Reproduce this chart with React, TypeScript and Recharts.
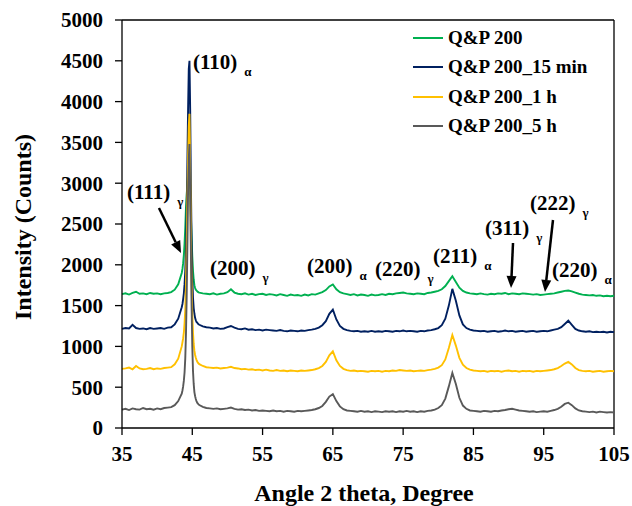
import {
  Line,
  LineChart,
  ReferenceDot,
  ReferenceLine,
  XAxis,
  YAxis,
} from "recharts";

const FONT = '"Liberation Serif", "Times New Roman", serif';

// 2 theta grid (finer around the (110) peak)
const angles = [
  35, 35.5, 36, 36.5, 37, 37.5, 38, 38.5, 39, 39.5, 40, 40.5, 41, 41.5, 42, 42.5, 43,
  43.5, 43.6, 43.7, 43.8, 43.9, 44, 44.1, 44.2, 44.3, 44.4, 44.5, 44.6, 44.7, 44.8, 44.9,
  45, 45.1, 45.2, 45.3, 45.4, 45.5, 45.6, 45.7, 45.8, 45.9, 46,
  46.5, 47, 47.5, 48, 48.5, 49, 49.5, 50, 50.5, 51,
  51.5, 52, 52.5, 53, 53.5, 54, 54.5, 55, 55.5, 56,
  56.5, 57, 57.5, 58, 58.5, 59, 59.5, 60, 60.5, 61,
  61.5, 62, 62.5, 63, 63.5, 64, 64.5, 65, 65.5, 66,
  66.5, 67, 67.5, 68, 68.5, 69, 69.5, 70, 70.5, 71,
  71.5, 72, 72.5, 73, 73.5, 74, 74.5, 75, 75.5, 76,
  76.5, 77, 77.5, 78, 78.5, 79, 79.5, 80, 80.5, 81,
  81.5, 82, 82.5, 83, 83.5, 84, 84.5, 85, 85.5, 86,
  86.5, 87, 87.5, 88, 88.5, 89, 89.5, 90, 90.5, 91,
  91.5, 92, 92.5, 93, 93.5, 94, 94.5, 95, 95.5, 96,
  96.5, 97, 97.5, 98, 98.5, 99, 99.5, 100, 100.5, 101,
  101.5, 102, 102.5, 103, 103.5, 104, 104.5, 105,
];

const qp200 = [
  1640, 1650, 1635, 1655, 1670, 1645, 1650, 1640, 1655, 1645, 1650, 1640, 1650, 1655, 1665, 1695, 1760,
  1900, 1950, 2020, 2120, 2260, 2450, 2700, 2850, 3000, 3100, 3100, 3050, 2900, 2600, 2350,
  2100, 1930, 1820, 1750, 1715, 1695, 1685, 1675, 1668, 1662, 1658,
  1650, 1645, 1640, 1650, 1635, 1645, 1650, 1665, 1700, 1660,
  1645, 1640, 1650, 1635, 1645, 1630, 1640, 1645, 1630, 1640,
  1635, 1625, 1640, 1630, 1620, 1635, 1625, 1630, 1620, 1635,
  1625, 1640, 1635, 1650, 1665, 1690, 1735, 1760, 1700, 1665,
  1650, 1640, 1630, 1640, 1625, 1635, 1630, 1620, 1635, 1625,
  1630, 1640, 1630, 1645, 1640, 1650, 1655, 1660, 1650, 1645,
  1640, 1650, 1645, 1640, 1655, 1660, 1670, 1680, 1700, 1740,
  1800, 1860, 1790, 1720, 1680, 1660, 1650, 1645, 1640, 1650,
  1640, 1635, 1645, 1640, 1650, 1645, 1655, 1640, 1650, 1645,
  1640, 1650, 1645, 1640, 1635, 1640, 1630, 1635, 1640, 1645,
  1650, 1660, 1670, 1680, 1685, 1675, 1660, 1645, 1635, 1630,
  1625, 1630, 1620, 1625, 1615, 1620, 1615, 1620,
];

const qp200_15min = [
  1215, 1225, 1220, 1265, 1225, 1215, 1220, 1210, 1225, 1215, 1220, 1225, 1215, 1230, 1235, 1270, 1340,
  1480, 1520, 1580, 1650, 1760, 1920, 2200, 2650, 3250, 3900, 4400, 4500, 3900, 3000, 2300,
  1850, 1600, 1470, 1400, 1350, 1320, 1300, 1290, 1280, 1270, 1265,
  1245, 1235, 1230, 1220, 1225, 1215, 1220, 1235, 1250, 1230,
  1215, 1210, 1220, 1205, 1210, 1200, 1205, 1195, 1205, 1200,
  1195, 1190, 1200, 1190, 1185, 1195, 1190, 1185, 1195, 1190,
  1200, 1205, 1215, 1230, 1260, 1310, 1400, 1450, 1330, 1250,
  1215, 1200, 1190, 1185, 1190, 1180, 1185, 1180, 1190, 1180,
  1185, 1180, 1190, 1185, 1180, 1190, 1185, 1195, 1185, 1190,
  1185, 1180, 1190, 1185, 1195, 1200, 1210, 1225, 1260, 1340,
  1500, 1705, 1560, 1380, 1270, 1225, 1205, 1195, 1190, 1185,
  1190, 1180, 1185, 1190, 1180, 1185, 1195, 1185, 1190, 1180,
  1185, 1190, 1180, 1185, 1190, 1180, 1185, 1190, 1185, 1195,
  1205, 1215, 1235, 1275, 1315, 1265, 1215, 1195, 1185, 1180,
  1185, 1175, 1180, 1175, 1180, 1170, 1180, 1175,
];

const qp200_1h = [
  725, 730, 740, 720, 760, 730, 720, 725, 735, 720, 730, 725, 735, 740, 745, 780, 850,
  1000, 1050, 1100, 1170, 1280, 1450, 1750, 2200, 2800, 3300, 3700, 3850, 3200, 2450, 1800,
  1400, 1170, 1030, 945, 895, 860, 835, 815, 800, 790, 782,
  760, 745, 740, 735, 740, 730, 735, 740, 750, 735,
  730, 720, 725, 715, 720, 710, 715, 705, 715, 705,
  700, 710, 700, 705, 695, 705, 700, 695, 705, 700,
  705, 710, 720, 735, 760, 810, 890, 940, 830, 760,
  725, 710, 700, 705, 695, 700, 695, 690, 700, 695,
  700, 690, 700, 695, 705, 700, 710, 705, 700, 705,
  695, 700, 705, 700, 710, 715, 725, 740, 770, 840,
  980, 1140, 1010, 860, 775, 735, 715, 705, 700, 695,
  700, 690, 700, 695, 700, 690, 700, 705, 695, 700,
  690, 700, 695, 700, 690, 700, 695, 700, 705, 710,
  720, 735, 760, 790, 810, 780, 735, 710, 700, 695,
  700, 690, 695, 700, 690, 695, 700, 695,
];

const qp200_5h = [
  225, 235, 220, 240, 230, 225, 245, 230, 235, 225, 240, 230, 245, 250, 255, 280, 330,
  420, 460, 510, 580, 680, 850, 1150, 1600, 2200, 2900, 3300, 3480, 2900, 2150, 1500,
  1000, 700, 540, 440, 390, 355, 330, 310, 300, 290, 282,
  260, 245, 240, 235, 240, 230, 235, 240, 250, 235,
  225, 230, 220, 225, 215, 220, 210, 215, 210, 205,
  215, 205, 210, 200, 210, 205, 200, 210, 205, 210,
  215, 220, 230, 245, 270, 320, 385, 415, 330, 265,
  230, 215, 210, 205, 200, 210, 200, 205, 195, 205,
  200, 195, 205, 200, 205, 195, 205, 200, 210, 200,
  205, 195, 205, 200, 210, 215, 225, 245, 280, 360,
  510, 675, 540, 370, 275, 235, 215, 210, 205, 200,
  210, 205, 200, 210, 205, 215, 220, 230, 235, 225,
  215, 210, 205, 200, 205, 195, 200, 205, 200, 210,
  220, 235, 260, 295, 310, 280, 240, 215, 205, 200,
  195, 200, 190, 200, 195, 190, 195, 190,
];

const xTicks = [35, 45, 55, 65, 75, 85, 95, 105];
const yTicks = [0, 500, 1000, 1500, 2000, 2500, 3000, 3500, 4000, 4500, 5000];

const series = [
  { key: "qp200", name: "Q&P 200", color: "#00B050" },
  { key: "qp200_15min", name: "Q&P 200_15 min", color: "#002060" },
  { key: "qp200_1h", name: "Q&P 200_1 h", color: "#FFC000" },
  { key: "qp200_5h", name: "Q&P 200_5 h", color: "#595959" },
];

// peak labels: text start (2theta) and baseline (counts)
const peakLabels = [
  { x: 45.1, y: 4400, text: "(110)", sub: "α" },
  { x: 35.71, y: 2806, text: "(111)", sub: "γ" },
  { x: 47.52, y: 1875, text: "(200)", sub: "γ" },
  { x: 61.32, y: 1900, text: "(200)", sub: "α" },
  { x: 71.0, y: 1863, text: "(220)", sub: "γ" },
  { x: 79.25, y: 2022, text: "(211)", sub: "α" },
  { x: 86.65, y: 2365, text: "(311)", sub: "γ" },
  { x: 93.05, y: 2672, text: "(222)", sub: "γ" },
  { x: 96.18, y: 1850, text: "(220)", sub: "α" },
];

const arrows = [
  { from: { x: 40.26, y: 2696 }, to: { x: 43.39, y: 2145 } },
  { from: { x: 90.63, y: 2267 }, to: { x: 90.35, y: 1716 } },
  { from: { x: 96.32, y: 2549 }, to: { x: 95.18, y: 1667 } },
];

const rows = angles.map((a, i) => ({
  angle: a,
  qp200: qp200[i],
  qp200_15min: qp200_15min[i],
  qp200_1h: qp200_1h[i],
  qp200_5h: qp200_5h[i],
}));

const PeakText = (props: any) => {
  const vb = props.viewBox || {};
  const x = vb.x + (vb.width || 0) / 2;
  const y = vb.y + (vb.height || 0) / 2;
  return (
    <text
      x={x}
      y={y}
      fontFamily={FONT}
      fontWeight={700}
      fontSize={21}
      fill="#000"
    >
      {props.main}
      <tspan dx={7} dy={7} fontSize={13}>
        {props.sub}
      </tspan>
    </text>
  );
};

const Arrow = (props: any) => {
  const { x1, y1, x2, y2 } = props;
  if ([x1, y1, x2, y2].some((v) => typeof v !== "number")) return null;
  const dx = x2 - x1;
  const dy = y2 - y1;
  const len = Math.sqrt(dx * dx + dy * dy);
  const ux = dx / len;
  const uy = dy / len;
  const head = 12;
  const half = 5;
  const bx = x2 - ux * head;
  const by = y2 - uy * head;
  return (
    <g>
      <line x1={x1} y1={y1} x2={bx} y2={by} stroke="#000" strokeWidth={2.5} />
      <polygon
        points={`${x2},${y2} ${bx - uy * half},${by + ux * half} ${bx + uy * half},${by - ux * half}`}
        fill="#000"
      />
    </g>
  );
};

const LegendBox = () => (
  <div
    style={{
      position: "absolute",
      left: 413,
      top: 23,
      width: 210,
      fontFamily: FONT,
      fontWeight: 700,
      fontSize: 19,
      color: "#000",
    }}
  >
    {series.map((s) => (
      <div
        key={s.key}
        style={{ display: "flex", alignItems: "center", height: 29.5 }}
      >
        <span
          style={{
            display: "inline-block",
            width: 30,
            height: 2,
            background: s.color,
            marginRight: 5,
          }}
        />
        <span>{s.name}</span>
      </div>
    ))}
  </div>
);

const tickStyle = { fill: "#000", fontSize: 21, fontWeight: 700, fontFamily: FONT };

export default function App() {
  return (
    <div style={{ position: "absolute", left: 0, top: 0, width: 632, height: 506, background: "#fff" }}>
      <LineChart
        width={632}
        height={506}
        data={rows}
        margin={{ top: 20, right: 18, bottom: 0, left: 0 }}
      >
        <XAxis
          dataKey="angle"
          type="number"
          domain={[35, 105]}
          ticks={xTicks}
          height={78}
          tick={tickStyle}
          tickSize={7}
          tickMargin={11}
          axisLine={{ stroke: "#000", strokeWidth: 1.3 }}
          tickLine={{ stroke: "#000", strokeWidth: 1.3 }}
          label={{
            content: (p: any) => {
              const vb = p.viewBox || {};
              return (
                <text
                  x={vb.x + vb.width / 2 - 4}
                  y={501}
                  textAnchor="middle"
                  fontFamily={FONT}
                  fontWeight={700}
                  fontSize={24}
                  fill="#000"
                >
                  Angle 2 theta, Degree
                </text>
              );
            },
          }}
        />
        <YAxis
          type="number"
          domain={[0, 5000]}
          ticks={yTicks}
          width={122}
          tick={tickStyle}
          tickSize={7}
          tickMargin={12}
          axisLine={{ stroke: "#000", strokeWidth: 1.3 }}
          tickLine={{ stroke: "#000", strokeWidth: 1.3 }}
          label={{
            content: (p: any) => {
              const vb = p.viewBox || {};
              const cy = vb.y + vb.height / 2 + 3;
              return (
                <text
                  x={31}
                  y={cy}
                  transform={`rotate(-90, 31, ${cy})`}
                  textAnchor="middle"
                  fontFamily={FONT}
                  fontWeight={700}
                  fontSize={24}
                  fill="#000"
                >
                  Intensity (Counts)
                </text>
              );
            },
          }}
        />
        <ReferenceLine y={5000} stroke="#000" strokeWidth={1.3} />
        <ReferenceLine x={105} stroke="#000" strokeWidth={1.3} />
        {series.map((s) => (
          <Line
            key={s.key}
            type="linear"
            dataKey={s.key}
            name={s.name}
            stroke={s.color}
            strokeWidth={1.9}
            dot={false}
            isAnimationActive={false}
          />
        ))}
        {arrows.map((a, i) => (
          <ReferenceLine
            key={"arrow" + i}
            segment={[a.from, a.to]}
            shape={(p: any) => <Arrow {...p} />}
          />
        ))}
        {peakLabels.map((l, i) => (
          <ReferenceDot
            key={"lbl" + i}
            x={l.x}
            y={l.y}
            r={0}
            fill="none"
            stroke="none"
            label={{
              content: (p: any) => <PeakText {...p} main={l.text} sub={l.sub} />,
            }}
          />
        ))}
      </LineChart>
      <LegendBox />
    </div>
  );
}
